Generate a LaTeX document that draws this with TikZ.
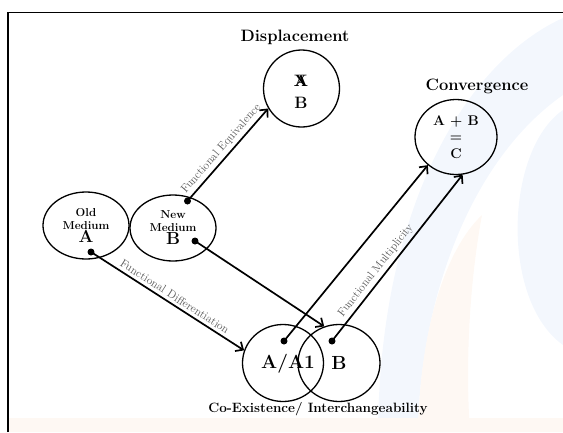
\documentclass[tikz,border=0pt]{standalone}
\usetikzlibrary{arrows.meta,shapes.geometric}
\definecolor{wmblue}{RGB}{243,247,253}
\definecolor{wmpeach}{RGB}{254,248,243}
\begin{document}
\begin{tikzpicture}[x=1pt,y=-1pt,
  circ/.style={draw, ellipse, line width=1.3pt, inner sep=0pt, align=center},
  head/.style={font=\fontsize{16.5}{18}\selectfont\bfseries, inner sep=0pt},
  conn/.style={line width=1.7pt, -{Straight Barb[length=6pt,width=11pt,line width=1.7pt]}},
  lab/.style={font=\fontsize{11.5}{12}\selectfont, text=black!65, sloped, above=2pt, inner sep=1pt},
  dot/.style={circle, fill, inner sep=0pt, minimum size=7pt}
]
\useasboundingbox (0,0) rectangle (563,432);
% faint watermark
\fill[wmblue] (563,18) .. controls (470,60) and (380,200) .. (378,432) -- (418,432) .. controls (420,300) and (470,160) .. (563,95) -- cycle;
\fill[wmblue] (563,110) .. controls (505,150) and (500,300) .. (563,345) -- cycle;
\fill[wmpeach] (418,432) .. controls (420,330) and (445,250) .. (482,215) .. controls (470,280) and (465,360) .. (470,432) -- cycle;
\fill[wmpeach] (9,418) rectangle (563,432);
% frame
\draw[line width=1.5pt] (8,432) -- (8,12.5) -- (563,12.5);

% circles
\node[circ, minimum width=76pt, minimum height=77pt] (disp) at (301.5,88.5) {};
\node[font=\fontsize{16.5}{22}\selectfont\bfseries, align=center, inner sep=0pt] (dispt) at (301,92) {\ooalign{X\cr A}\\B};
\node[circ, minimum width=82pt, minimum height=75pt, font=\fontsize{14}{16.5}\selectfont\bfseries] (conv) at (456,137) {A + B\\=\\C};
\node[circ, minimum width=86pt, minimum height=67pt, font=\fontsize{11.5}{12.5}\selectfont\bfseries] (old) at (86,225.5) {Old\\Medium\\[1pt]{\fontsize{17.5}{17}\selectfont A}};
\node[circ, minimum width=86pt, minimum height=66pt, font=\fontsize{11.5}{12.5}\selectfont\bfseries] (new) at (173,228) {New\\Medium\\[1pt]{\fontsize{17.5}{17}\selectfont B}};
\node[circ, minimum width=81pt, minimum height=77pt] (aa) at (283,363) {};
\node[font=\fontsize{19}{19}\selectfont\bfseries, inner sep=0pt] (aat) at (288,364) {A/A1};
\node[circ, minimum width=82pt, minimum height=77pt, font=\fontsize{19}{19}\selectfont\bfseries] (bb) at (339,363) {B};

% headings
\node[head] (hdisp) at (295,37) {Displacement};
\node[head] (hconv) at (477,86) {Convergence};
\node[head, font=\fontsize{13.5}{16}\selectfont\bfseries] (hco) at (318,409) {Co-Existence/ Interchangeability};

% dots
\node[dot] (dnew) at (187.5,201) {};
\node[dot] (dold) at (91,252) {};
\node[dot] (dnewb) at (195,241) {};
\node[dot] (daa) at (284,341) {};
\node[dot] (dbb) at (332,341) {};

% connectors
\draw[conn] (dnew.center) -- node[lab, pos=0.5] {Functional Equivalence} (disp.211);
\draw[conn] (dold.center) -- node[lab, pos=0.52] {Functional Differentiation} (aa.162);
\draw[conn] (dnewb.center) -- (bb.112);
\draw[conn] (daa.center) -- (conv.225);
\draw[conn] (dbb.center) -- node[lab, pos=0.39] {Functional Multiplicity} (conv.280);
\end{tikzpicture}
\end{document}
